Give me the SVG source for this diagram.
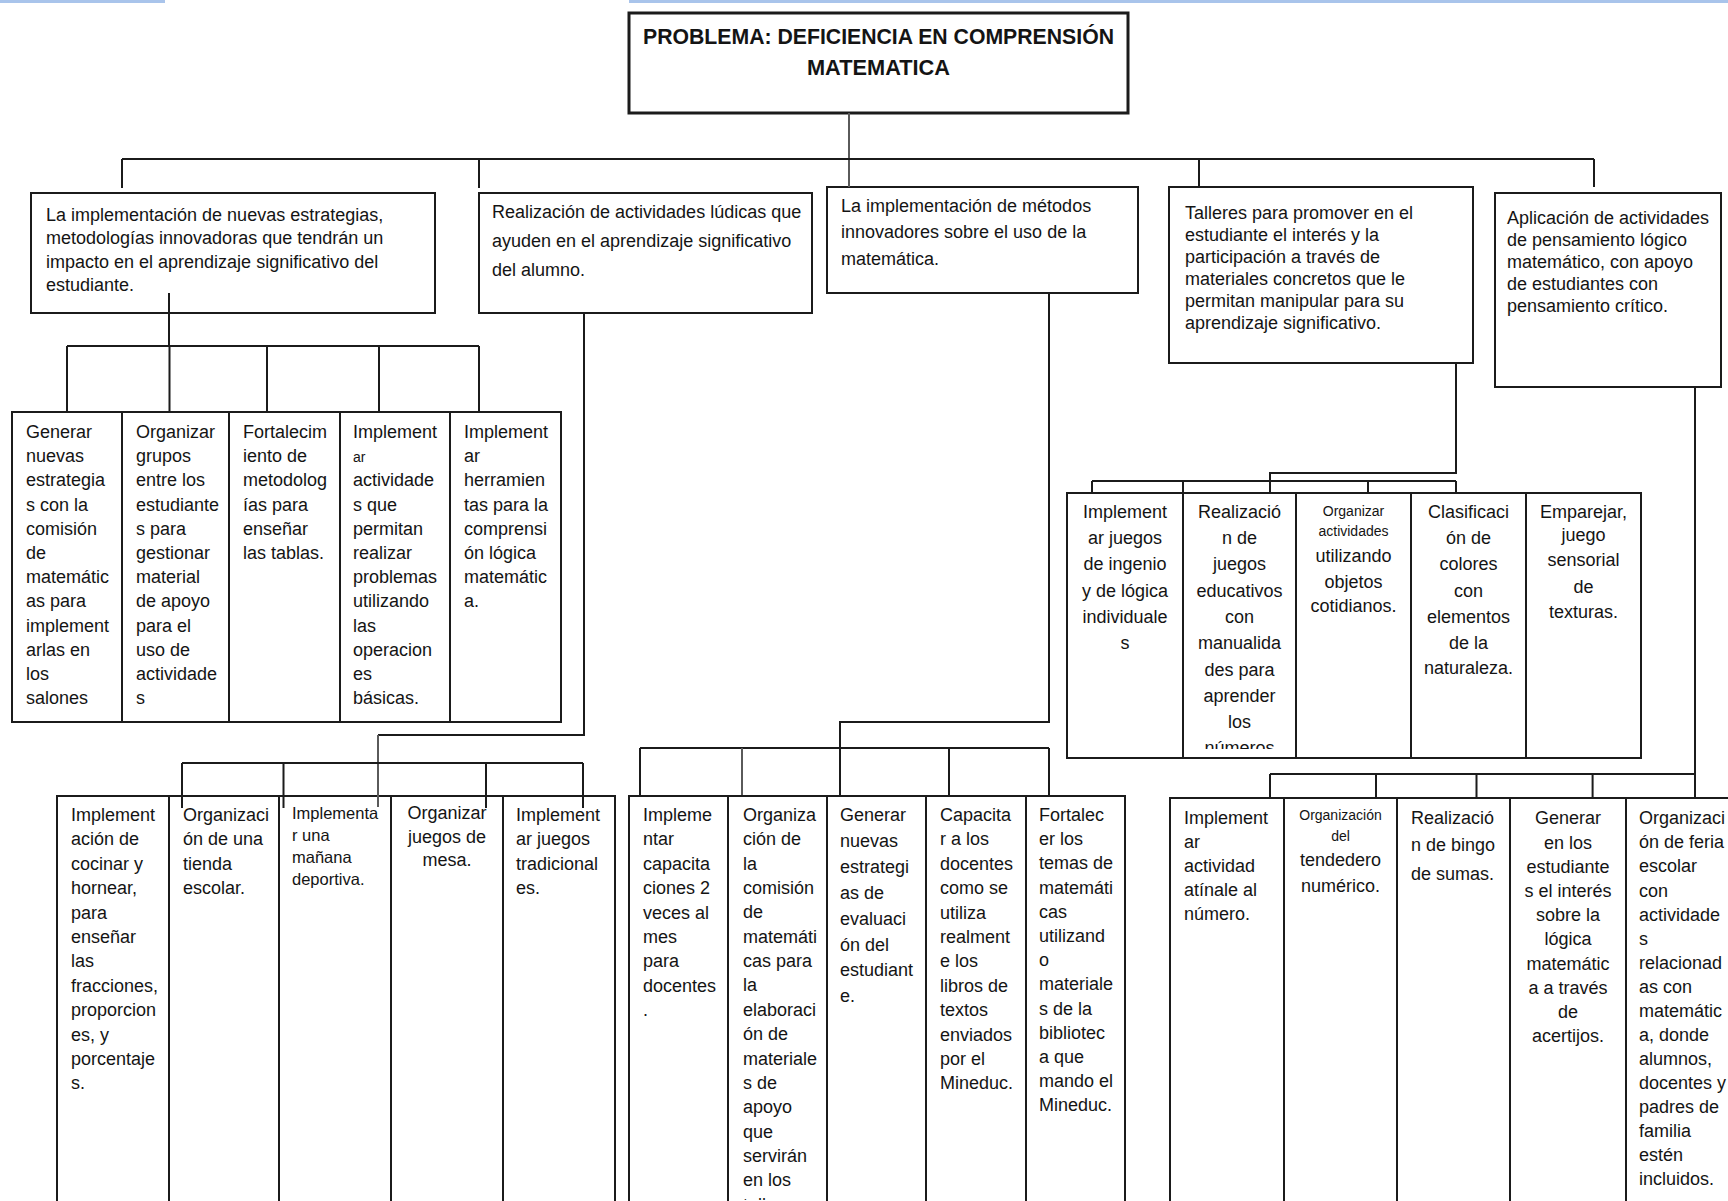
<svg xmlns="http://www.w3.org/2000/svg" width="1728" height="1201" viewBox="0 0 1728 1201">
<style>
.bx{fill:#fff;stroke:#1b1b1b;stroke-width:2}
.bt{fill:#fff;stroke:#1b1b1b;stroke-width:3}
.ln{fill:none;stroke:#1b1b1b;stroke-width:2}
.lg{fill:none;stroke:#5a5a5a;stroke-width:2}
.bl{stroke:#a9c4eb;stroke-width:3}
text{font-family:"Liberation Sans",Arial,sans-serif;font-size:18px;fill:#141414}
.m{text-anchor:middle}
.s{font-size:14px}
.h{font-weight:bold;font-size:22px}
</style>
<defs>
<clipPath id="clipR2"><rect x="1183" y="493" width="113" height="256"/></clipPath>
<clipPath id="clipM2"><rect x="728" y="796" width="99" height="404"/></clipPath>
</defs>
<line class="bl" x1="0" y1="1.5" x2="165" y2="1.5"/>
<line class="bl" x1="629" y1="1.5" x2="1728" y2="1.5"/>

<g id="problema">
<rect class="bt" x="629" y="13" width="499" height="100"/>
<text class="h m" x="878.5" y="44" textLength="471" lengthAdjust="spacingAndGlyphs">PROBLEMA: DEFICIENCIA EN COMPRENSIÓN</text>
<text class="h m" x="878.5" y="75" textLength="143" lengthAdjust="spacingAndGlyphs">MATEMATICA</text>
</g>

<g id="n1">
<rect class="bx" x="31" y="193" width="404" height="120"/>
<text x="46" y="221"><tspan x="46">La implementación de nuevas estrategias,</tspan><tspan x="46" dy="23.3">metodologías innovadoras que tendrán un</tspan><tspan x="46" dy="23.3">impacto en el aprendizaje significativo del</tspan><tspan x="46" dy="23.3">estudiante.</tspan></text>
</g>
<g id="n2">
<rect class="bx" x="479" y="193" width="333" height="120"/>
<text x="492" y="217.5"><tspan x="492">Realización de actividades lúdicas que</tspan><tspan x="492" dy="29.3">ayuden en el aprendizaje significativo</tspan><tspan x="492" dy="29.3">del alumno.</tspan></text>
</g>
<g id="n3">
<rect class="bx" x="827" y="187" width="311" height="106"/>
<text x="841" y="211.5"><tspan x="841">La implementación de métodos</tspan><tspan x="841" dy="26.5">innovadores sobre el uso de la</tspan><tspan x="841" dy="26.5">matemática.</tspan></text>
</g>
<g id="n4">
<rect class="bx" x="1169" y="187" width="304" height="176"/>
<text x="1185" y="219"><tspan x="1185">Talleres para promover en el</tspan><tspan x="1185" dy="22">estudiante el interés y la</tspan><tspan x="1185" dy="22">participación a través de</tspan><tspan x="1185" dy="22">materiales concretos que le</tspan><tspan x="1185" dy="22">permitan manipular para su</tspan><tspan x="1185" dy="22">aprendizaje significativo.</tspan></text>
</g>
<g id="n5">
<rect class="bx" x="1495" y="193" width="226" height="194"/>
<text x="1507" y="224"><tspan x="1507">Aplicación de actividades</tspan><tspan x="1507" dy="22">de pensamiento lógico</tspan><tspan x="1507" dy="22">matemático, con apoyo</tspan><tspan x="1507" dy="22">de estudiantes con</tspan><tspan x="1507" dy="22">pensamiento crítico.</tspan></text>
</g>

<!-- Row 2 left -->
<g id="n1a">
<rect class="bx" x="12" y="412" width="110" height="310"/>
<text x="26" y="438"><tspan x="26">Generar</tspan><tspan x="26" dy="24.2">nuevas</tspan><tspan x="26" dy="24.2">estrategia</tspan><tspan x="26" dy="24.2">s con la</tspan><tspan x="26" dy="24.2">comisión</tspan><tspan x="26" dy="24.2">de</tspan><tspan x="26" dy="24.2">matemátic</tspan><tspan x="26" dy="24.2">as para</tspan><tspan x="26" dy="24.2">implement</tspan><tspan x="26" dy="24.2">arlas en</tspan><tspan x="26" dy="24.2">los</tspan><tspan x="26" dy="24.2">salones</tspan></text>
</g>
<g id="n1b">
<rect class="bx" x="122" y="412" width="107" height="310"/>
<text x="136" y="438"><tspan x="136">Organizar</tspan><tspan x="136" dy="24.2">grupos</tspan><tspan x="136" dy="24.2">entre los</tspan><tspan x="136" dy="24.2">estudiante</tspan><tspan x="136" dy="24.2">s para</tspan><tspan x="136" dy="24.2">gestionar</tspan><tspan x="136" dy="24.2">material</tspan><tspan x="136" dy="24.2">de apoyo</tspan><tspan x="136" dy="24.2">para el</tspan><tspan x="136" dy="24.2">uso de</tspan><tspan x="136" dy="24.2">actividade</tspan><tspan x="136" dy="24.2">s</tspan></text>
</g>
<g id="n1c">
<rect class="bx" x="229" y="412" width="111" height="310"/>
<text x="243" y="438"><tspan x="243">Fortalecim</tspan><tspan x="243" dy="24.2">iento de</tspan><tspan x="243" dy="24.2">metodolog</tspan><tspan x="243" dy="24.2">ías para</tspan><tspan x="243" dy="24.2">enseñar</tspan><tspan x="243" dy="24.2">las tablas.</tspan></text>
</g>
<g id="n1d">
<rect class="bx" x="340" y="412" width="110" height="310"/>
<text x="353" y="438"><tspan x="353">Implement</tspan><tspan x="353" dy="24.2" class="s">ar</tspan><tspan x="353" dy="24.2">actividade</tspan><tspan x="353" dy="24.2">s que</tspan><tspan x="353" dy="24.2">permitan</tspan><tspan x="353" dy="24.2">realizar</tspan><tspan x="353" dy="24.2">problemas</tspan><tspan x="353" dy="24.2">utilizando</tspan><tspan x="353" dy="24.2">las</tspan><tspan x="353" dy="24.2">operacion</tspan><tspan x="353" dy="24.2">es</tspan><tspan x="353" dy="24.2">básicas.</tspan></text>
</g>
<g id="n1e">
<rect class="bx" x="450" y="412" width="111" height="310"/>
<text x="464" y="438"><tspan x="464">Implement</tspan><tspan x="464" dy="24.2">ar</tspan><tspan x="464" dy="24.2">herramien</tspan><tspan x="464" dy="24.2">tas para la</tspan><tspan x="464" dy="24.2">comprensi</tspan><tspan x="464" dy="24.2">ón lógica</tspan><tspan x="464" dy="24.2">matemátic</tspan><tspan x="464" dy="24.2">a.</tspan></text>
</g>

<!-- Row 2 right -->
<g id="n4a">
<rect class="bx" x="1067" y="493" width="116" height="265"/>
<text class="m" x="1125" y="517.7"><tspan x="1125">Implement</tspan><tspan x="1125" dy="26.3">ar juegos</tspan><tspan x="1125" dy="26.3">de ingenio</tspan><tspan x="1125" dy="26.3">y de lógica</tspan><tspan x="1125" dy="26.3">individuale</tspan><tspan x="1125" dy="26.3">s</tspan></text>
</g>
<g id="n4b">
<rect class="bx" x="1183" y="493" width="113" height="265"/>
<text class="m" x="1239.5" y="517.7" clip-path="url(#clipR2)"><tspan x="1239.5">Realizació</tspan><tspan x="1239.5" dy="26.3">n de</tspan><tspan x="1239.5" dy="26.3">juegos</tspan><tspan x="1239.5" dy="26.3">educativos</tspan><tspan x="1239.5" dy="26.3">con</tspan><tspan x="1239.5" dy="26.3">manualida</tspan><tspan x="1239.5" dy="26.3">des para</tspan><tspan x="1239.5" dy="26.3">aprender</tspan><tspan x="1239.5" dy="26.3">los</tspan><tspan x="1239.5" dy="26.3">números</tspan></text>
</g>
<g id="n4c">
<rect class="bx" x="1296" y="493" width="115" height="265"/>
<text class="m" x="1353.5" y="516"><tspan class="s" x="1353.5">Organizar</tspan><tspan class="s" x="1353.5" dy="19.5">actividades</tspan><tspan x="1353.5" dy="26.5">utilizando</tspan><tspan x="1353.5" dy="26">objetos</tspan><tspan x="1353.5" dy="24">cotidianos.</tspan></text>
</g>
<g id="n4d">
<rect class="bx" x="1411" y="493" width="115" height="265"/>
<text class="m" x="1468.5" y="517.7"><tspan x="1468.5">Clasificaci</tspan><tspan x="1468.5" dy="26.3">ón de</tspan><tspan x="1468.5" dy="26.3">colores</tspan><tspan x="1468.5" dy="26.3">con</tspan><tspan x="1468.5" dy="26.3">elementos</tspan><tspan x="1468.5" dy="26.3">de la</tspan><tspan x="1468.5" dy="25">naturaleza.</tspan></text>
</g>
<g id="n4e">
<rect class="bx" x="1526" y="493" width="115" height="265"/>
<text class="m" x="1583.5" y="517.7"><tspan x="1583.5">Emparejar,</tspan><tspan x="1583.5" dy="23.5">juego</tspan><tspan x="1583.5" dy="25">sensorial</tspan><tspan x="1583.5" dy="26.5">de</tspan><tspan x="1583.5" dy="25">texturas.</tspan></text>
</g>

<!-- Row 3 left -->
<g id="n2a">
<rect class="bx" x="57" y="796" width="112" height="420"/>
<text x="71" y="821"><tspan x="71">Implement</tspan><tspan x="71" dy="24.4">ación de</tspan><tspan x="71" dy="24.4">cocinar y</tspan><tspan x="71" dy="24.4">hornear,</tspan><tspan x="71" dy="24.4">para</tspan><tspan x="71" dy="24.4">enseñar</tspan><tspan x="71" dy="24.4">las</tspan><tspan x="71" dy="24.4">fracciones,</tspan><tspan x="71" dy="24.4">proporcion</tspan><tspan x="71" dy="24.4">es, y</tspan><tspan x="71" dy="24.4">porcentaje</tspan><tspan x="71" dy="24.4">s.</tspan></text>
</g>
<g id="n2b">
<rect class="bx" x="169" y="796" width="110" height="420"/>
<text x="183" y="821"><tspan x="183">Organizaci</tspan><tspan x="183" dy="24.4">ón de una</tspan><tspan x="183" dy="24.4">tienda</tspan><tspan x="183" dy="24.4">escolar.</tspan></text>
</g>
<g id="n2c">
<rect class="bx" x="279" y="796" width="112" height="420"/>
<text x="292" y="819" style="font-size:16.5px"><tspan x="292">Implementa</tspan><tspan x="292" dy="21.8">r una</tspan><tspan x="292" dy="21.8">mañana</tspan><tspan x="292" dy="22.5">deportiva.</tspan></text>
</g>
<g id="n2d">
<rect class="bx" x="391" y="796" width="112" height="420"/>
<text class="m" x="447" y="818.7"><tspan x="447">Organizar</tspan><tspan x="447" dy="24">juegos de</tspan><tspan x="447" dy="23.5">mesa.</tspan></text>
</g>
<g id="n2e">
<rect class="bx" x="503" y="796" width="112" height="420"/>
<text x="516" y="821"><tspan x="516">Implement</tspan><tspan x="516" dy="24.4">ar juegos</tspan><tspan x="516" dy="24.4">tradicional</tspan><tspan x="516" dy="24.4">es.</tspan></text>
</g>

<!-- Row 3 middle -->
<g id="n3a">
<rect class="bx" x="629" y="796" width="99" height="420"/>
<text x="643" y="821"><tspan x="643">Impleme</tspan><tspan x="643" dy="24.4">ntar</tspan><tspan x="643" dy="24.4">capacita</tspan><tspan x="643" dy="24.4">ciones 2</tspan><tspan x="643" dy="24.4">veces al</tspan><tspan x="643" dy="24.4">mes</tspan><tspan x="643" dy="24.4">para</tspan><tspan x="643" dy="24.4">docentes</tspan><tspan x="643" dy="24.4">.</tspan></text>
</g>
<g id="n3b">
<rect class="bx" x="728" y="796" width="99" height="420"/>
<text x="743" y="821" clip-path="url(#clipM2)"><tspan x="743">Organiza</tspan><tspan x="743" dy="24.35">ción de</tspan><tspan x="743" dy="24.35">la</tspan><tspan x="743" dy="24.35">comisión</tspan><tspan x="743" dy="24.35">de</tspan><tspan x="743" dy="24.35">matemáti</tspan><tspan x="743" dy="24.35">cas para</tspan><tspan x="743" dy="24.35">la</tspan><tspan x="743" dy="24.35">elaboraci</tspan><tspan x="743" dy="24.35">ón de</tspan><tspan x="743" dy="24.35">materiale</tspan><tspan x="743" dy="24.35">s de</tspan><tspan x="743" dy="24.35">apoyo</tspan><tspan x="743" dy="24.35">que</tspan><tspan x="743" dy="24.35">servirán</tspan><tspan x="743" dy="24.35">en los</tspan><tspan x="743" dy="24.35">talleres.</tspan></text>
</g>
<g id="n3c">
<rect class="bx" x="827" y="796" width="99" height="420"/>
<text x="840" y="821"><tspan x="840">Generar</tspan><tspan x="840" dy="25.9">nuevas</tspan><tspan x="840" dy="25.9">estrategi</tspan><tspan x="840" dy="25.9">as de</tspan><tspan x="840" dy="25.9">evaluaci</tspan><tspan x="840" dy="25.9">ón del</tspan><tspan x="840" dy="25.9">estudiant</tspan><tspan x="840" dy="25.9">e.</tspan></text>
</g>
<g id="n3d">
<rect class="bx" x="926" y="796" width="100" height="420"/>
<text x="940" y="821"><tspan x="940">Capacita</tspan><tspan x="940" dy="24.4">r a los</tspan><tspan x="940" dy="24.4">docentes</tspan><tspan x="940" dy="24.4">como se</tspan><tspan x="940" dy="24.4">utiliza</tspan><tspan x="940" dy="24.4">realment</tspan><tspan x="940" dy="24.4">e los</tspan><tspan x="940" dy="24.4">libros de</tspan><tspan x="940" dy="24.4">textos</tspan><tspan x="940" dy="24.4">enviados</tspan><tspan x="940" dy="24.4">por el</tspan><tspan x="940" dy="24.4">Mineduc.</tspan></text>
</g>
<g id="n3e">
<rect class="bx" x="1026" y="796" width="99" height="420"/>
<text x="1039" y="821"><tspan x="1039">Fortalec</tspan><tspan x="1039" dy="24.2">er los</tspan><tspan x="1039" dy="24.2">temas de</tspan><tspan x="1039" dy="24.2">matemáti</tspan><tspan x="1039" dy="24.2">cas</tspan><tspan x="1039" dy="24.2">utilizand</tspan><tspan x="1039" dy="24.2">o</tspan><tspan x="1039" dy="24.2">materiale</tspan><tspan x="1039" dy="24.2">s de la</tspan><tspan x="1039" dy="24.2">bibliotec</tspan><tspan x="1039" dy="24.2">a que</tspan><tspan x="1039" dy="24.2">mando el</tspan><tspan x="1039" dy="24.2">Mineduc.</tspan></text>
</g>

<!-- Row 3 right -->
<g id="n5a">
<rect class="bx" x="1170" y="798" width="114" height="420"/>
<text x="1184" y="824.3"><tspan x="1184">Implement</tspan><tspan x="1184" dy="24">ar</tspan><tspan x="1184" dy="24">actividad</tspan><tspan x="1184" dy="24">atínale al</tspan><tspan x="1184" dy="24">número.</tspan></text>
</g>
<g id="n5b">
<rect class="bx" x="1284" y="798" width="113" height="420"/>
<text class="m" x="1340.5" y="819.5"><tspan class="s" x="1340.5">Organización</tspan><tspan class="s" x="1340.5" dy="21.5">del</tspan><tspan x="1340.5" dy="25">tendedero</tspan><tspan x="1340.5" dy="25.7">numérico.</tspan></text>
</g>
<g id="n5c">
<rect class="bx" x="1397" y="798" width="113" height="420"/>
<text x="1411" y="824.3"><tspan x="1411">Realizació</tspan><tspan x="1411" dy="26.7">n de bingo</tspan><tspan x="1411" dy="29">de sumas.</tspan></text>
</g>
<g id="n5d">
<rect class="bx" x="1510" y="798" width="116" height="420"/>
<text class="m" x="1568" y="824.3"><tspan x="1568">Generar</tspan><tspan x="1568" dy="24.2">en los</tspan><tspan x="1568" dy="24.2">estudiante</tspan><tspan x="1568" dy="24.2">s el interés</tspan><tspan x="1568" dy="24.2">sobre la</tspan><tspan x="1568" dy="24.2">lógica</tspan><tspan x="1568" dy="24.2">matemátic</tspan><tspan x="1568" dy="24.2">a a través</tspan><tspan x="1568" dy="24.2">de</tspan><tspan x="1568" dy="24.2">acertijos.</tspan></text>
</g>
<g id="n5e">
<rect class="bx" x="1626" y="798" width="120" height="420"/>
<text x="1639" y="824.3"><tspan x="1639">Organizaci</tspan><tspan x="1639" dy="24.07">ón de feria</tspan><tspan x="1639" dy="24.07">escolar</tspan><tspan x="1639" dy="24.07">con</tspan><tspan x="1639" dy="24.07">actividade</tspan><tspan x="1639" dy="24.07">s</tspan><tspan x="1639" dy="24.07">relacionad</tspan><tspan x="1639" dy="24.07">as con</tspan><tspan x="1639" dy="24.07">matemátic</tspan><tspan x="1639" dy="24.07">a, donde</tspan><tspan x="1639" dy="24.07">alumnos,</tspan><tspan x="1639" dy="24.07">docentes y</tspan><tspan x="1639" dy="24.07">padres de</tspan><tspan x="1639" dy="24.07">familia</tspan><tspan x="1639" dy="24.07">estén</tspan><tspan x="1639" dy="24.07">incluidos.</tspan></text>
</g>

<g id="connectors">
<path class="lg" d="M849,113 V187"/>
<path class="ln" d="M122,159 H1594 M122,159 V188 M479,159 V188 M1199,159 V187 M1594,159 V187"/>
<path class="ln" d="M169,293 V346 M67,346 H479 M67,346 V412 M169.5,346 V412 M267,346 V412 M379,346 V412 M479,346 V412"/>
<path class="ln" d="M584,313 V735 H378"/>
<path class="lg" d="M378,735 V807"/>
<path class="ln" d="M182,763 H583 M182,763 V808 M283.5,763 V808 M486,763 V808 M583,763 V808"/>
<path class="ln" d="M1049,293 V722 H840 V795 M640,748 H1049 M640,748 V795 M949,748 V795 M1049,748 V795"/>
<path class="lg" d="M742,748 V795"/>
<path class="ln" d="M1456,363 V473 H1270 V493 M1092,481 H1456 M1092,481 V493 M1183,481 V493 M1368,481 V493 M1456,481 V493"/>
<path class="ln" d="M1695,387 V797 M1270,774 H1695 M1270,774 V797 M1376,774 V797 M1476.5,774 V797 M1592.6,774 V797"/>
</g>
</svg>
